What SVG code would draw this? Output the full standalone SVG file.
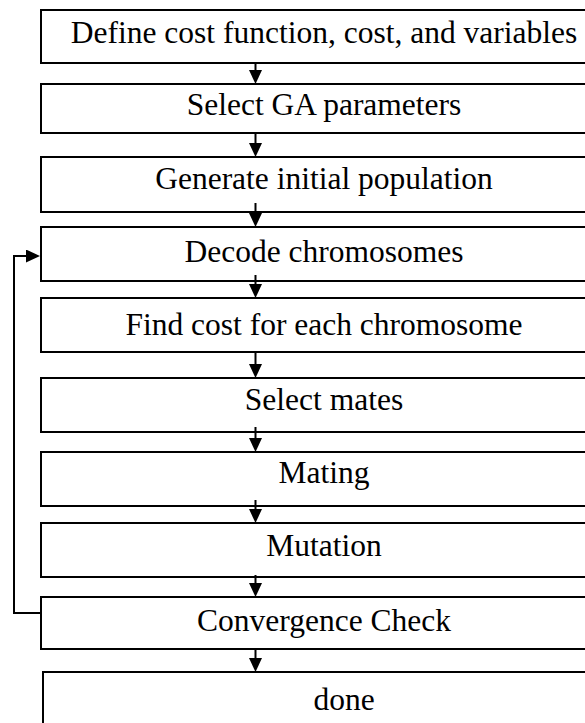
<svg xmlns="http://www.w3.org/2000/svg" width="585" height="723" viewBox="0 0 585 723">
<style>
.box{fill:#fff;stroke:#000;stroke-width:2}
.lbl{font-family:"Liberation Serif","Times New Roman",serif;font-size:31.5px;fill:#000;text-anchor:middle}
.edge{fill:none;stroke:#000;stroke-width:2}
</style>
<defs>
<marker id="ah" markerUnits="userSpaceOnUse" viewBox="0 0 14 13" markerWidth="14" markerHeight="13" refX="0" refY="6.5" orient="auto">
<path d="M0,0 L14,6.5 L0,13 z" fill="#000"/>
</marker>
</defs>
<rect width="585" height="723" fill="#fff"/>
<g id="n1"><rect class="box" x="41" y="10" width="570" height="53"/><text class="lbl" x="324" y="42.5">Define cost function, cost, and variables</text></g>
<g id="n2"><rect class="box" x="41" y="84" width="570" height="49"/><text class="lbl" x="324" y="115">Select GA parameters</text></g>
<g id="n3"><rect class="box" x="41" y="157" width="570" height="55"/><text class="lbl" x="324" y="189">Generate initial population</text></g>
<g id="n4"><rect class="box" x="41" y="227" width="570" height="54"/><text class="lbl" x="324" y="262">Decode chromosomes</text></g>
<g id="n5"><rect class="box" x="41" y="298" width="570" height="54"/><text class="lbl" x="324" y="335">Find cost for each chromosome</text></g>
<g id="n6"><rect class="box" x="41" y="378" width="570" height="54"/><text class="lbl" x="324" y="410">Select mates</text></g>
<g id="n7"><rect class="box" x="41" y="452" width="570" height="54"/><text class="lbl" x="324" y="483">Mating</text></g>
<g id="n8"><rect class="box" x="41" y="523" width="570" height="54"/><text class="lbl" x="324" y="556">Mutation</text></g>
<g id="n9"><rect class="box" x="41" y="597" width="570" height="52"/><text class="lbl" x="324" y="631">Convergence Check</text></g>
<g id="n10"><rect class="box" x="43" y="672" width="570" height="80"/><text class="lbl" x="344" y="710">done</text></g>
<g id="connectors">
<path class="edge" d="M255.5,63 V70" marker-end="url(#ah)"/>
<path class="edge" d="M255.5,133 V143" marker-end="url(#ah)"/>
<path class="edge" d="M255.5,203 V213" marker-end="url(#ah)"/>
<path class="edge" d="M255.5,275 V284" marker-end="url(#ah)"/>
<path class="edge" d="M255.5,352 V364" marker-end="url(#ah)"/>
<path class="edge" d="M255.5,427 V438" marker-end="url(#ah)"/>
<path class="edge" d="M255.5,500 V509" marker-end="url(#ah)"/>
<path class="edge" d="M255.5,575 V583" marker-end="url(#ah)"/>
<path class="edge" d="M255.5,649 V658" marker-end="url(#ah)"/>
<path class="edge" d="M41,613 H14 V256 H26" marker-end="url(#ah)"/>
</g>
</svg>
